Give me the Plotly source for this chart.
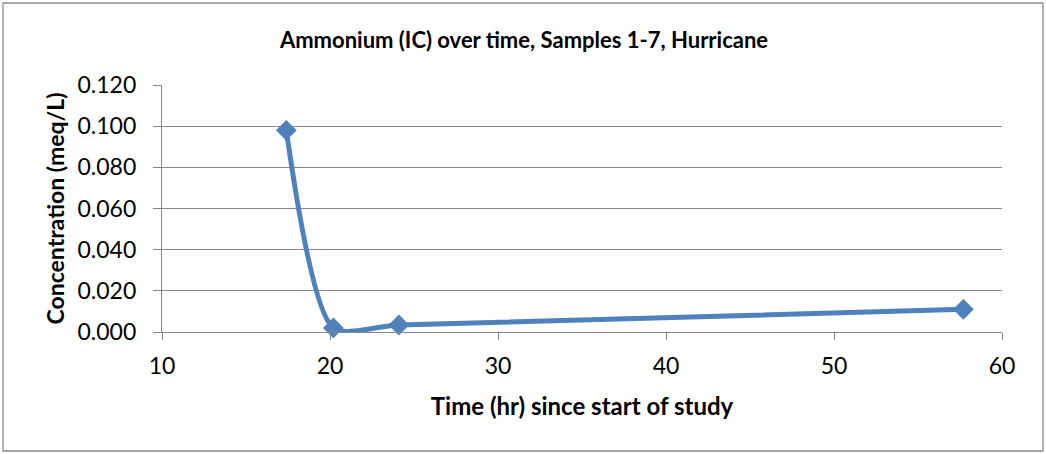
import plotly.graph_objects as go

time_hr = [17.4, 20.2, 24.1, 57.7]
conc = [0.098, 0.002, 0.0034, 0.011]
x_ticks = [10, 20, 30, 40, 50, 60]
y_ticks = [0.0, 0.02, 0.04, 0.06, 0.08, 0.10, 0.12]

W, H = 1046, 454
L, R, T, B = 162, 44, 85, 122
pw, ph = W - L - R, H - T - B

fig = go.Figure()
fig.add_trace(go.Scatter(
    x=time_hr, y=conc, mode="lines+markers",
    line=dict(color="#4F81BD", width=5, shape="spline", smoothing=0.7),
    marker=dict(symbol="diamond", size=16, color="#4F81BD"),
    showlegend=False, cliponaxis=False,
))

fig.update_layout(
    width=W, height=H,
    margin=dict(l=L, r=R, t=T, b=B),
    paper_bgcolor="white", plot_bgcolor="white",
    font=dict(family="Lato, Carlito, Calibri, sans-serif", color="black"),
    title=dict(text="<b>Ammonium (IC) over time, Samples 1-7, Hurricane</b>",
               x=524 / W, xref="container", xanchor="center",
               y=1 - 40 / H, yref="container", yanchor="middle",
               font=dict(size=22)),
    xaxis=dict(range=[10, 60], tickvals=x_ticks, ticktext=[str(v) for v in x_ticks],
               showgrid=False, zeroline=False, showline=True, linecolor="#868686",
               linewidth=1.3, ticks="outside", ticklen=7, tickcolor="#868686",
               tickfont=dict(size=23), ticklabelstandoff=6,
               title=dict(text="<b>Time (hr) since start of study</b>", font=dict(size=24),
                          standoff=20)),
    yaxis=dict(range=[0, 0.12], tickvals=y_ticks,
               ticktext=[f"{v:.3f}" for v in y_ticks],
               showgrid=True, gridcolor="#888888", gridwidth=1.3,
               zeroline=False, showline=True, linecolor="#868686", linewidth=1.3,
               ticks="outside", ticklen=8, tickcolor="#868686",
               tickfont=dict(size=23), ticklabelstandoff=12,
               title=dict(text="<b>Concentration (meq/L)</b>", font=dict(size=23),
                          standoff=6)),
)

# outer chart border
fig.add_shape(type="rect", xref="paper", yref="paper",
              x0=(3 - L) / pw, x1=(W - 3 - L) / pw,
              y0=-(B - 3) / ph, y1=1 + (T - 3) / ph,
              line=dict(color="#8C8C8C", width=1.3), layer="below")

fig.write_html("out.html")
